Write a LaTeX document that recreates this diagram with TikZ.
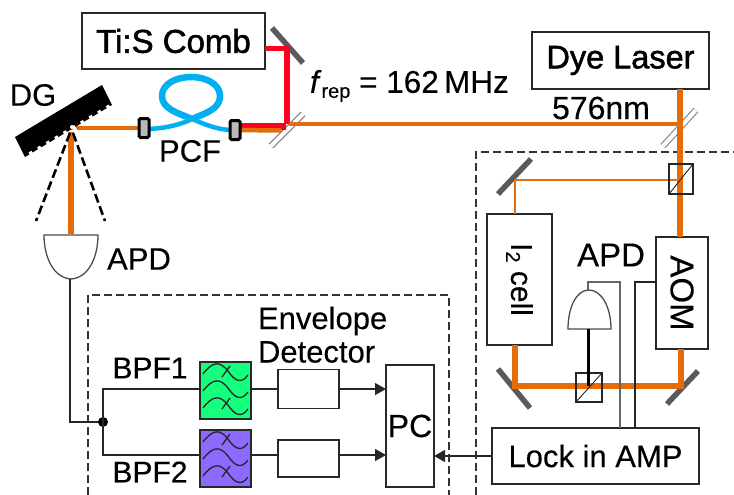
\documentclass[tikz,border=0pt]{standalone}
\usepackage{fontspec}
\setmainfont[FakeBold=0.25]{Liberation Sans}
\newfontfamily\semib[FakeBold=1.6]{Liberation Sans}
\usetikzlibrary{arrows.meta,calc}
\definecolor{beam}{RGB}{228,108,10}
\definecolor{redbeam}{RGB}{255,0,30}
\definecolor{fiber}{RGB}{0,176,240}
\definecolor{mirrorc}{RGB}{90,90,90}
\definecolor{greenf}{RGB}{20,255,125}
\definecolor{purplef}{RGB}{140,105,255}
\definecolor{boxc}{RGB}{40,40,40}
\newcommand{\fs}[1]{\fontsize{#1}{#1}\selectfont}
\newcommand{\wavesat}[1]{%
  \begin{scope}[shift={(#1)}]
    \foreach \dy in {0,17,34}{
      \draw[line width=1.3pt,black!85] (3,{11+\dy}) .. controls (13,{-2+\dy}) and (20,{-2+\dy}) .. (28,{8+\dy}) .. controls (34,{17+\dy}) and (41,{22+\dy}) .. (48,{12+\dy});
    }
    \draw[line width=1.3pt,black!85] (22,14) -- (30,3);
    \draw[line width=1.3pt,black!85] (22,46) -- (30,35);
  \end{scope}}
\tikzset{
  x=1pt,y=-1pt,
  box/.style={draw=boxc,line width=1.3pt,fill=white,inner sep=0pt,outer sep=0pt},
  dashbox/.style={draw=black!80,line width=1.2pt,dash pattern=on 8pt off 4pt},
  wire/.style={draw=black!85,line width=1.3pt},
  greywire/.style={draw=black!60,line width=1.7pt},
  arrowwire/.style={wire,-{Triangle[length=11pt,width=12pt]}},
  thickbeam/.style={draw=beam,line width=6pt},
  midbeam/.style={draw=beam,line width=4.8pt},
  thinbeam/.style={draw=beam,line width=2.8pt},
  mirror/.style={draw=mirrorc,line width=5.5pt},
  splitter/.style={draw=black!50,double=white,double distance=4.2pt,line width=1.1pt},
  cube/.style={draw=black!85,line width=1.1pt,fill=none,inner sep=0pt,outer sep=0pt},
  lbl/.style={inner sep=0pt,outer sep=0pt,text=black},
  coll/.style={draw=black,line width=3pt,fill=black!28,rounded corners=1.5pt,inner sep=0pt,outer sep=0pt,minimum width=10pt,minimum height=19pt},
  apdshape/.style={draw=black!70,line width=1.3pt,fill=white},
}
\begin{document}
\begin{tikzpicture}
\useasboundingbox (0,0) rectangle (734,495);

% dashed enclosures
\draw[dashbox] (476,495) -- (476,152) -- (734,152);
\draw[dashbox] (88,495) -- (88,295) -- (449,295) -- (449,495);

% boxes
\node[box,minimum width=183pt,minimum height=56pt] (comb) at (173.5,41) {\semib\fs{33}Ti:S Comb};
\node[box,minimum width=177pt,minimum height=57pt] (dye) at (620.5,60.5) {\semib\fs{32.5}Dye Laser};
\node[box,minimum width=65pt,minimum height=131pt] (cell) at (519.5,279.5) {\rotatebox{-90}{\fs{30}I\raisebox{-5pt}{\fs{20}2} cell}};
\node[box,minimum width=52pt,minimum height=112pt] (aom) at (682,293) {\rotatebox{-90}{\fs{33}AOM}};
\node[box,minimum width=207pt,minimum height=56pt] (lock) at (595.5,456) {\fs{31}Lock in AMP};
\node[box,minimum width=48pt,minimum height=122pt] (pc) at (410,426) {\fs{32}PC};
\node[box,fill=greenf,minimum width=51pt,minimum height=57pt] (bpfa) at (225.5,390.5) {};
\node[box,fill=purplef,minimum width=51pt,minimum height=57pt] (bpfb) at (225.5,458.5) {};
\node[box,minimum width=61pt,minimum height=39pt] (enva) at (308.5,389) {};
\node[box,minimum width=61pt,minimum height=37pt] (envb) at (308.5,458.5) {};
\wavesat{200,363}
\wavesat{200,431}

% free points of the optical paths
\coordinate (combout) at (265,48.5);
\coordinate (redturn) at (287,48.5);
\coordinate (bs) at (287,124);
\coordinate (dg) at (71,128);
\coordinate (collL) at (144,128);
\coordinate (collR) at (235,130);
\coordinate (dyeturn) at (680,124);
\coordinate (cubeT) at (680,180);
\coordinate (mirT) at (515,180);
\coordinate (mirBL) at (515,386);
\coordinate (mirBR) at (681,386);
\coordinate (cubeB) at (588,386);

% mirrors and splitters
\draw[mirror] (272,28) -- (303,63);
\draw[splitter] (271,146) -- (303,114);
\draw[splitter] (663,146) -- (696,110);
\draw[mirror] (498,194) -- (531,159);
\draw[mirror] (498,369) -- (530,408);
\draw[mirror] (667,404) -- (698,371);

% Ti:S beams
\draw[redbeam,line width=5.5pt,line join=miter] (combout) -- (redturn) -- (bs);
\draw[redbeam,line width=7pt] (collR |- 0,126.5) -- (286,126.5);
\draw[beam,line width=4.5pt] (collR) -- (281,130.5);
\draw[midbeam] (dg) -- (collL);
\draw[beam,line width=4.2pt] (289,124) -- (dyeturn);

% dye beams
\draw[thickbeam] (dye.south -| dyeturn) -- (dyeturn |- aom.north);
\draw[thinbeam] (cubeT) -- (mirT) -- (mirT |- cell.north);
\draw[thickbeam,line join=miter] (mirBL |- cell.south) -- (mirBL) -- (mirBR) -- (mirBR |- aom.south);

% cubes
\node[cube,draw,minimum width=24pt,minimum height=30pt] (cubeU) at (681,179) {};
\draw[black!85,line width=.9pt] (cubeU.south west) -- (cubeU.north east);
\node[cube,draw,minimum width=26pt,minimum height=29pt] (cubeL) at (589,387.5) {};
\draw[black!85,line width=.9pt] (cubeL.south west) -- (cubeL.north east);

% PCF
\draw[fiber,line width=4.5pt] (149,129) .. controls (168,128) and (182,124) .. (192,119);
\draw[fiber,line width=4.5pt] (192,119) .. controls (204,124) and (215,129) .. (230,130);
\draw[fiber,line width=6.5pt] (192,119) .. controls (178,113) and (162,109) .. (162,96) .. controls (162,84) and (176,77) .. (191,77)
  .. controls (206,77) and (220,84) .. (220,96) .. controls (220,109) and (206,113) .. (192,119);
\node[coll] (pcfL) at (144,128) {};
\node[coll] (pcfR) at (235,130) {};

% grating
\fill[black] (15,137) -- (102,85) -- (112,105) -- (25,157) -- cycle;
\draw[white,line width=5pt,dash pattern=on 3.5pt off 6.5pt] (110,106.7) -- (23,158.7);
\fill[white] (72,127) circle (2pt);

% diffracted beams
\draw[beam,line width=5.5pt] (71,132) -- (71,234);
\draw[black,line width=2.6pt,dash pattern=on 9pt off 4pt] (70,133) -- (36,221);
\draw[black,line width=2.6pt,dash pattern=on 9pt off 4pt] (73,133) -- (105,221);

% detectors
\draw[apdshape] (44,235) -- (98,235) .. controls (98,258) and (88,278) .. (71,279) .. controls (54,278) and (44,258) .. (44,235) -- cycle;
\coordinate (apdaout) at (70,279);
\draw[apdshape] (568,329) .. controls (568,308) and (576,290) .. (589,290) .. controls (602,290) and (611,308) .. (611,329) -- cycle;
\coordinate (apdbtop) at (588,290);
\coordinate (apdbbase) at (588,329);
\draw[black,line width=3pt] (apdbbase) -- (cubeB);

% electronics wiring
\coordinate (jn) at (103,422);
\draw[wire] (apdaout) -- (70,422) -- (jn);
\fill[black] (jn) circle (5pt);
\draw[wire] (jn) -- (103,389) -- (103,389 -| bpfa.west);
\draw[wire] (jn) -- (103,455) -- (103,455 -| bpfb.west);
\draw[wire] (bpfa.east |- enva.west) -- (enva.west);
\draw[wire] (bpfb.east |- 0,455) -- (envb.west |- 0,455);
\draw[arrowwire] (enva.east) -- (enva.east -| pc.west);
\draw[arrowwire] (envb.east |- 0,455) -- (pc.west |- 0,455);
\draw[arrowwire] (lock.west) -- (lock.west -| pc.east);
\draw[greywire] (apdbtop) -- (588,282) -- (620,282) -- (620,428);
\draw[wire] (aom.west |- 0,282) -- (635,282) -- (635,428);

% labels
\node[lbl] (lbldg) at (33,95) {\fs{31}DG};
\node[lbl] (lblpcf) at (190,151) {\fs{31}PCF};
\node[lbl] (lblapda) at (139,259) {\fs{31}APD};
\node[lbl] (lblapdb) at (611,255) {\fs{33}APD};
\node[lbl,anchor=west] (lblfrep) at (310,86) {\fs{31.5}\textit{f}\raisebox{-5pt}{\fs{20}rep} = 162\,MHz};
\node[lbl] (lbl576) at (601,108) {\fs{32}576nm};
\node[lbl] (lblbpfa) at (150,368) {\fs{30}BPF1};
\node[lbl] (lblbpfb) at (150,472) {\fs{30}BPF2};
\node[lbl,anchor=west] (lblenv) at (258,321) {\fs{31}Envelope};
\node[lbl,anchor=west] (lbldet) at (258,352) {\fs{31}Detector};
\end{tikzpicture}
\end{document}
